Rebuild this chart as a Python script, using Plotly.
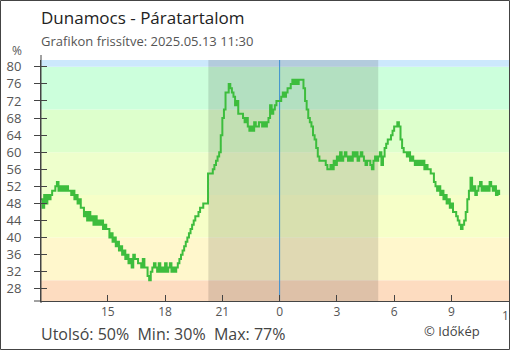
import plotly.graph_objects as go
from datetime import datetime, timedelta

# ---------------- data ----------------
station = "Dunamocs"
updated = "2025.05.13 11:30"
start_time = datetime(2025, 5, 12, 11, 30)
step_minutes = 5

humidity = [
    49, 47, 50, 48, 50, 49, 50, 51, 51, 52,
    53, 51, 52, 51, 52, 51, 52, 51, 51, 50,
    51, 49, 50, 48, 49, 47, 47, 45, 46, 44,
    46, 44, 45, 43, 45, 43, 44, 43, 44, 42,
    43, 42, 42, 40, 41, 39, 40, 38, 39, 37,
    38, 36, 37, 35, 36, 34, 35, 33, 36, 35,
    35, 34, 34, 33, 35, 33, 33, 31, 30, 32,
    33, 34, 33, 32, 34, 32, 33, 32, 34, 32,
    33, 34, 32, 33, 32, 33, 34, 35, 36, 37,
    38, 39, 40, 41, 42, 43, 44, 45, 45, 46,
    47, 47, 48, 48, 48, 55, 55, 55, 56, 57,
    58, 59, 60, 64, 68, 70, 74, 74, 76, 75,
    74, 73, 71, 72, 69, 69, 69, 68, 67, 68,
    66, 65, 66, 65, 67, 66, 66, 67, 67, 66,
    67, 66, 67, 68, 71, 69, 70, 71, 72, 72,
    72, 73, 74, 73, 74, 75, 75, 76, 77, 76,
    77, 76, 77, 77, 77, 75, 72, 70, 68, 67,
    66, 64, 63, 61, 59, 58, 58, 58, 58, 57,
    56, 56, 57, 56, 58, 57, 59, 58, 60, 58,
    59, 60, 59, 58, 59, 58, 60, 59, 60, 58,
    59, 60, 59, 58, 57, 58, 58, 57, 56, 58,
    59, 58, 59, 60, 57, 59, 61, 62, 63, 63,
    64, 65, 66, 66, 67, 66, 63, 61, 60, 60,
    59, 60, 58, 59, 58, 57, 58, 57, 58, 57,
    58, 56, 57, 56, 56, 55, 55, 53, 52, 51,
    52, 50, 51, 49, 50, 48, 49, 47, 48, 46,
    46, 45, 44, 43, 42, 43, 44, 46, 49, 51,
    54, 51, 52, 50, 51, 52, 53, 51, 52, 51,
    52, 51, 53, 52, 51, 52, 50, 51, 50,
]

tick_hours = [15, 18, 21, 0, 3, 6, 9, 12]
tick_dates = [12, 12, 12, 13, 13, 13, 13, 13]
y_ticks = [28, 32, 36, 40, 44, 48, 52, 56, 60, 64, 68, 72, 76, 80]

band_edges = [25, 30, 40, 50, 60, 70, 80, 90]
band_colors = ["#fddcc0", "#fff7cc", "#f6ffc8", "#eeffcc", "#ddffcc", "#ccffdc", "#cce8fc"]

night_start = datetime(2025, 5, 12, 20, 16)
night_end = datetime(2025, 5, 13, 5, 10)
midnight = datetime(2025, 5, 13, 0, 0)

x_start = datetime(2025, 5, 12, 11, 30)
x_end = datetime(2025, 5, 13, 12, 1)
y_range = [25.15, 81.6]

# ---------------- figure ----------------
times = [start_time + timedelta(minutes=step_minutes * i) for i in range(len(humidity))]
tick_vals = [datetime(2025, 5, d, h, 0) for d, h in zip(tick_dates, tick_hours)]
tick_text = [str(h) for h in tick_hours]

W, H = 510, 350
ML, MR, MT, MB = 41, 1, 60, 49
PW, PH = W - ML - MR, H - MT - MB


def px(xp):
    return (xp - ML) / PW


def py(yp):
    return (H - MB - yp) / PH


FONT = "Open Sans, Noto Sans, DejaVu Sans, sans-serif"

fig = go.Figure()
fig.add_trace(go.Scatter(
    x=times, y=humidity, mode="lines", line_shape="hv",
    line=dict(color="#3dbd3d", width=2), hoverinfo="skip", showlegend=False,
))
# invisible trace for the overlay y axis (inside ticks)
fig.add_trace(go.Scatter(x=[times[0]], y=[humidity[0]], yaxis="y2", mode="markers",
                         marker=dict(opacity=0), showlegend=False, hoverinfo="skip"))

shapes = []
for lo, hi, col in zip(band_edges[:-1], band_edges[1:], band_colors):
    shapes.append(dict(type="rect", xref="paper", yref="y", x0=0, x1=1, y0=lo, y1=hi,
                       fillcolor=col, line_width=0, layer="below"))
shapes.append(dict(type="rect", xref="x", yref="paper", x0=night_start, x1=night_end,
                   y0=0, y1=1, fillcolor="rgba(0,0,0,0.12)", line_width=0, layer="below"))
shapes.append(dict(type="line", xref="x", yref="paper", x0=midnight, x1=midnight,
                   y0=0, y1=1, line=dict(color="#3b8fd0", width=1), layer="below"))
# small axis extensions
shapes.append(dict(type="line", xref="paper", yref="paper", x0=px(34), x1=0, y0=0, y1=0,
                   line=dict(color="#444", width=1)))
shapes.append(dict(type="line", xref="paper", yref="paper", x0=0, x1=0, y0=py(303), y1=py(55),
                   line=dict(color="#444", width=1)))
# frame
shapes.append(dict(type="rect", xref="paper", yref="paper",
                   x0=px(0.5), x1=px(509.5), y0=py(349.5), y1=py(0.5),
                   line=dict(color="#444", width=1), fillcolor="rgba(0,0,0,0)"))

last_v, min_v, max_v = humidity[-1], min(humidity), max(humidity)
annotations = [
    dict(text=f"{station} - Páratartalom", x=px(39), y=py(18), xanchor="left", yanchor="middle",
         font=dict(size=17, color="#222", family=FONT)),
    dict(text=f"Grafikon frissítve: {updated}", x=px(39), y=py(41), xanchor="left", yanchor="middle",
         font=dict(size=13, color="#555", family=FONT)),
    dict(text="%", x=px(17), y=py(51), xanchor="center", yanchor="middle",
         font=dict(size=12, color="#555", family=FONT)),
    dict(text=f"Utolsó: {last_v}%\u00a0 Min: {min_v}%\u00a0 Max: {max_v}%", x=px(39), y=py(334),
         xanchor="left", yanchor="middle", font=dict(size=16, color="#444", family=FONT)),
    dict(text="© Időkép", x=px(482), y=py(331), xanchor="right", yanchor="middle",
         font=dict(size=13, color="#444", family=FONT)),
]
for a in annotations:
    a.update(xref="paper", yref="paper", showarrow=False)
# last hour label sits on the chart edge (partly cut off, as in the original)
annotations.append(dict(text=tick_text[-1], xref="x", yref="paper", x=tick_vals[-1], y=py(315.5),
                        xanchor="center", yanchor="middle", showarrow=False,
                        font=dict(size=12, color="#555", family=FONT)))

fig.update_layout(
    width=W, height=H, margin=dict(l=ML, r=MR, t=MT, b=MB, pad=0),
    paper_bgcolor="white", plot_bgcolor="white",
    font=dict(family=FONT, color="#555"),
    shapes=shapes, annotations=annotations, showlegend=False,
    xaxis=dict(type="date", range=[x_start, x_end], tickvals=tick_vals, ticktext=tick_text,
               ticks="inside", ticklen=6, tickcolor="#444", tickwidth=1,
               showline=True, linecolor="#444", linewidth=1, showgrid=False, zeroline=False,
               tickfont=dict(size=12, color="#555"), fixedrange=True),
    yaxis=dict(range=y_range, tickvals=y_ticks, ticks="outside", ticklen=6, tickcolor="#444",
               tickwidth=1, showline=True, linecolor="#444", linewidth=1, showgrid=False,
               zeroline=False, tickfont=dict(size=13, color="#555"), ticklabelstandoff=10,
               fixedrange=True),
    yaxis2=dict(range=y_range, tickvals=y_ticks, ticks="inside", ticklen=6, tickcolor="#444",
                tickwidth=1, overlaying="y", side="left", showticklabels=False, showline=False,
                showgrid=False, zeroline=False, fixedrange=True),
)

fig.write_html("out.html", config={"displayModeBar": False},
               post_script="document.body.style.margin='0';document.body.style.overflow='hidden';")
